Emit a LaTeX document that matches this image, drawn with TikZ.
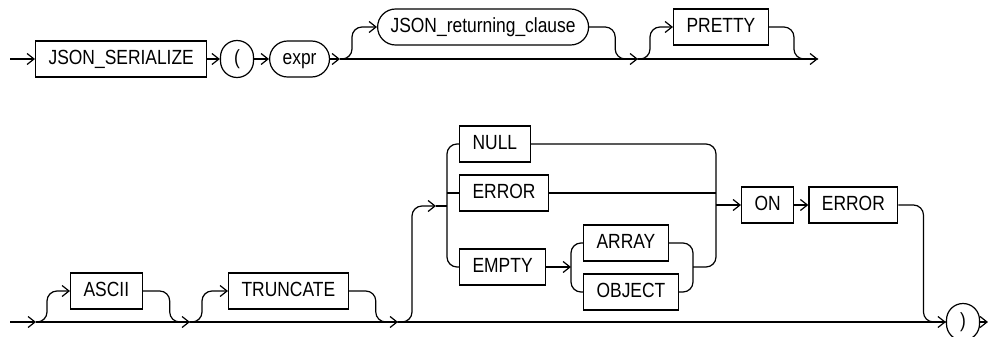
\documentclass[tikz,border=0pt]{standalone}
\usepackage{fontspec}
\setmainfont[FakeStretch=0.85]{Liberation Sans}
\usetikzlibrary{positioning,arrows.meta}

\begin{document}
\begin{tikzpicture}[
    x=1pt, y=-1pt,
    font=\fontsize{20.5}{24}\selectfont,
    line width=1.2pt,
    kw/.style={rectangle, draw, minimum height=36pt, inner xsep=13pt,
      text height=14.7pt, text depth=4pt},
    nt/.style={kw, rounded corners=18pt},
    sym/.style={rectangle, draw, rounded corners=16.5pt, minimum width=33pt,
      minimum height=37pt, inner sep=0pt, text height=14.7pt, text depth=4pt},
    rc/.style={rounded corners=10pt},
    >={Straight Barb[length=7pt,width=11pt]}
  ]
    \useasboundingbox (0,0) rectangle (988,337);

    \node[kw, anchor=west] (ser) at (35,59) {JSON\_SERIALIZE};
    \node[sym] (lpar) at (237,59) {(};
    \node[nt, anchor=west] (expr) at (269,59) {expr};
    \node[nt, anchor=west] (ret) at (377,27) {JSON\_returning\_clause};
    \node[kw, anchor=west] (pretty) at (673,27) {PRETTY};

    \node[kw, anchor=west] (ascii) at (70,291) {ASCII};
    \node[kw, anchor=west] (trunc) at (228,291) {TRUNCATE};
    \node[kw, anchor=west] (nul) at (459,144) {NULL};
    \node[kw, anchor=west] (err) at (459,193) {ERROR};
    \node[kw, anchor=west] (empty) at (459,267) {EMPTY};
    \node[kw, anchor=west] (arr) at (583,243) {ARRAY};
    \node[kw, anchor=west] (obj) at (583,292) {OBJECT};
    \node[kw, anchor=west] (on) at (741,205) {ON};
    \node[kw, right=14pt of on] (err2) {ERROR};
    \node[sym] (rpar) at (963,322) {)};

    \coordinate (s1) at (10,59);
    \coordinate (j1) at (340,59);
    \coordinate (j2) at (638,59);
    \coordinate (e1) at (818,59);
    \coordinate (s2) at (10,322);
    \coordinate (j3) at (36,322);
    \coordinate (j4) at (190,322);
    \coordinate (j5) at (398,322);
    \coordinate (e2) at (988,322);
    \coordinate (ch1) at (436,206);
    \coordinate (jl) at (447,206);
    \coordinate (jr) at (716,205);
    \coordinate (sjl) at (571,267);
    \coordinate (sjr) at (693,267);

    \draw[->] (s1) -- (ser);
    \draw[->] (ser) -- (lpar);
    \draw[->] (lpar) -- (expr);
    \draw[->] (expr) -- (j1);
    \draw[->] (j1) -- (j2);
    \draw[->] (j2) -- (e1);
    \draw[rc,->] (j1) -- ++(12,0) |- (ret.west);
    \draw[rc] (ret.east) -- ++(26,0) |- (j2);
    \draw[rc,->] (j2) -- ++(12,0) |- (pretty.west);
    \draw[rc] (pretty.east) -- ++(25,0) |- (e1);

    \draw[->] (s2) -- (j3);
    \draw[->] (j3) -- (j4);
    \draw[->] (j4) -- (j5);
    \draw[->] (j5) -- (rpar);
    \draw[->] (rpar) -- (e2);
    \draw[rc,->] (j3) -- ++(11,0) |- (ascii.west);
    \draw[rc] (ascii.east) -- ++(27,0) |- (j4);
    \draw[rc,->] (j4) -- ++(12,0) |- (trunc.west);
    \draw[rc] (trunc.east) -- ++(27,0) |- (j5);
    \draw[rc,->] (j5) -- ++(14,0) |- (ch1);
    \draw (ch1) -- (jl);

    \draw[rc] (nul.west) -| (jl) |- (empty.west);
    \draw (err.west) -- (err.west -| jl);
    \draw[rc] (nul.east) -| (jr) |- (sjr);
    \draw (err.east) -- (err.east -| jr);
    \draw[->] (empty) -- (sjl);
    \draw[rc] (arr.west) -| (sjl) |- (obj.west);
    \draw[rc] (arr.east) -| (sjr) |- (obj.east);
    \draw[->] (jr) -- (on);
    \draw[->] (on) -- (err2);
    \draw[rc] (err2.east) -- ++(25,0) |- (rpar.west);
  \end{tikzpicture}
\end{document}
